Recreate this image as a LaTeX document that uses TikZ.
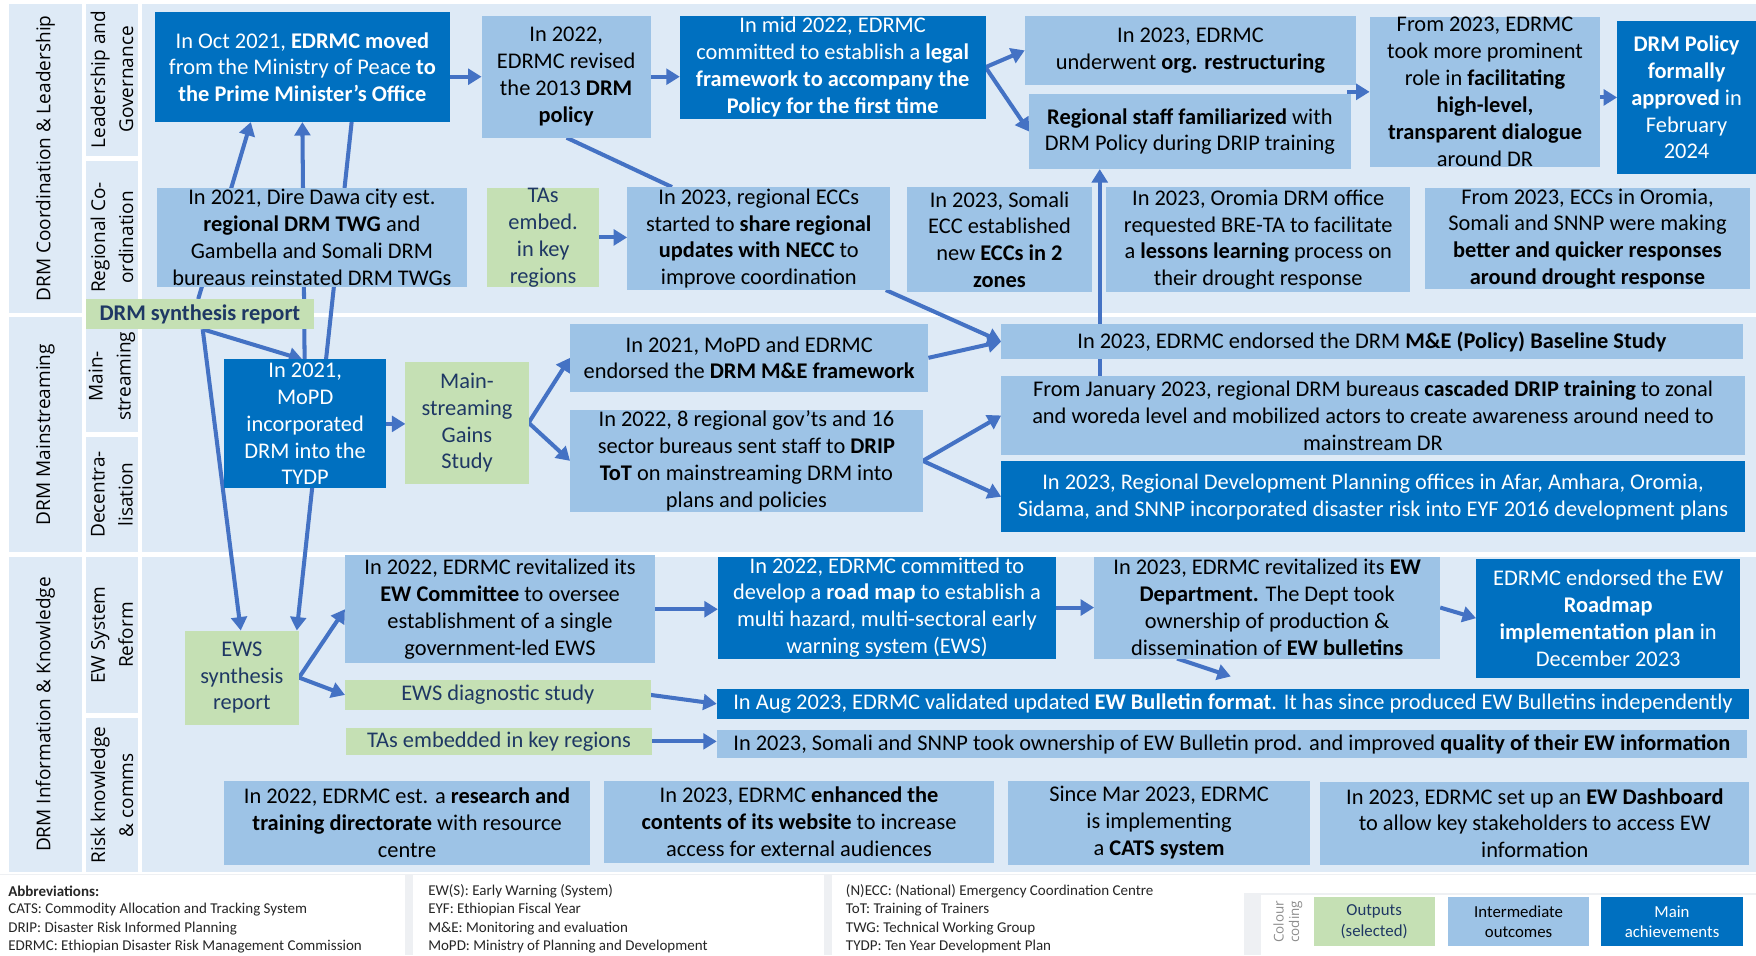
\documentclass[tikz,border=0pt]{standalone}
\usepackage{fontspec}
\setmainfont{Carlito}
\newfontfamily\lblfont{Open Sans}
\usetikzlibrary{arrows.meta,calc}
\definecolor{bgc}{RGB}{222,234,246}
\definecolor{midc}{RGB}{157,195,230}
\definecolor{mainc}{RGB}{0,112,192}
\definecolor{outc}{RGB}{197,224,180}
\definecolor{arrc}{RGB}{68,114,196}
\definecolor{navy}{RGB}{31,56,100}
\definecolor{greyb}{RGB}{238,240,243}
\pgfdeclarelayer{bg}
\pgfdeclarelayer{arrows}
\pgfsetlayers{bg,arrows,main}
\tikzset{
 midbox/.style={fill=midc, text=black},
 mainbox/.style={fill=mainc, text=white},
 outbox/.style={fill=outc, text=navy},
 boxshape/.style={draw=none, inner sep=0pt, outer sep=0pt},
 txt/.style={inner sep=0pt, align=center, font=\fontsize{10}{12}\selectfont},
 arr/.style={draw=arrc, line width=1.8pt, -{Triangle[length=6pt,width=7pt]}},
 ln/.style={draw=arrc, line width=1.8pt},
 lbl/.style={rotate=90, align=center, inner sep=0pt, font=\lblfont\fontsize{8.5}{12.5}\selectfont, text=black},
 abbr/.style={anchor=west, inner sep=0pt, font=\fontsize{6.7}{8}\selectfont, text=black!85},
}
\newcommand\bx[7]{%
 \pgfmathsetmacro\bw{(#5-#3)*0.5}%
 \pgfmathsetmacro\bh{(#6-#4)*0.5}%
 \pgfmathsetmacro\bcx{(#3+#5)/2}%
 \pgfmathsetmacro\bcy{(#4+#6)/2}%
 \node[boxshape,#2,minimum width=\bw pt,minimum height=\bh pt] (#1) at (\bcx,\bcy) {};
 \node[txt,#2,fill=none] at (#1.center) {#7};}
\begin{document}
\begin{tikzpicture}[x=0.5pt,y=-0.5pt]
\useasboundingbox (0,0) rectangle (1568,853);
\begin{pgfonlayer}{bg}
\fill[white] (0,0) rectangle (1568,853);
% bands
\fill[bgc] (8,3.5) rectangle (73,279.5);
\fill[bgc] (77,3.5) rectangle (123,139);
\fill[bgc] (77,144) rectangle (123,279.5);
\fill[bgc] (127,3.5) rectangle (1568,279.5);
\fill[bgc] (8,283) rectangle (73,493);
\fill[bgc] (77,283) rectangle (123,386);
\fill[bgc] (77,390) rectangle (123,493);
\fill[bgc] (127,283) rectangle (1568,493);
\fill[bgc] (8,497) rectangle (73,779);
\fill[bgc] (77,497) rectangle (123,637);
\fill[bgc] (77,641) rectangle (123,779);
\fill[bgc] (127,497) rectangle (1568,779);
% bottom area
\fill[greyb] (0,780) rectangle (1568,853);
\fill[white] (0,781) rectangle (362,853);
\fill[white] (369,781) rectangle (736,853);
\fill[white] (743,781) rectangle (1111,853);
\fill[white] (1111,781) rectangle (1568,797);
\fill[white] (1126,799) rectangle (1568,853);
\end{pgfonlayer}

% row labels
\node[lbl] (L1) at (40.5,141.5) {DRM Coordination \& Leadership};
\node[lbl] (L2) at (40.5,388) {DRM Mainstreaming};
\node[lbl] (L3) at (40.5,638) {DRM Information \& Knowledge};
\node[lbl] (S1) at (100,71) {Leadership and\\Governance};
\node[lbl] (S2) at (100,212) {Regional Co-\\ordination};
\node[lbl] (S3) at (100,336) {Main-\\streaming};
\node[lbl] (S4) at (100,441.5) {Decentra-\\lisation};
\node[lbl] (S5) at (100,567) {EW System\\Reform};
\node[lbl] (S6) at (100,710) {Risk knowledge\\\& comms};

% row 1
\bx{A1}{mainbox}{138}{11}{402}{109}{In Oct 2021, \textbf{EDRMC moved}\\from the Ministry of Peace \textbf{to}\\\textbf{the Prime Minister's Office}}
\bx{A2}{midbox}{430}{14}{581}{123}{In 2022,\\EDRMC revised\\the 2013 \textbf{DRM}\\\textbf{policy}}
\bx{A3}{mainbox}{607}{14}{880}{106}{In mid 2022, EDRMC\\committed to establish a \textbf{legal}\\\textbf{framework to accompany the}\\\textbf{Policy for the first time}}
\bx{A4}{midbox}{915}{14}{1211}{76}{In 2023, EDRMC\\underwent \textbf{org. restructuring}}
\bx{A5}{midbox}{919}{84}{1206}{151}{\textbf{Regional staff familiarized} with\\DRM Policy during DRIP training}
\bx{A6}{midbox}{1223}{15}{1429}{149}{From 2023, EDRMC\\took more prominent\\role in \textbf{facilitating}\\\textbf{high-level,}\\\textbf{transparent dialogue}\\around DR}
\bx{A7}{mainbox}{1444}{19}{1568}{155}{\textbf{DRM Policy}\\\textbf{formally}\\\textbf{approved} in\\February\\2024}
\bx{B1}{midbox}{140}{168}{417}{256}{In 2021, Dire Dawa city est.\\\textbf{regional DRM TWG} and\\Gambella and Somali DRM\\bureaus reinstated DRM TWGs}
\bx{B2}{outbox}{435}{168}{535}{256}{TAs\\embed.\\in key\\regions}
\bx{B3}{midbox}{560}{167}{795}{259}{In 2023, regional ECCs\\started to \textbf{share regional}\\\textbf{updates with NECC} to\\improve coordination}
\bx{B4}{midbox}{810}{167}{975}{261}{In 2023, Somali\\ECC established\\new \textbf{ECCs in 2}\\\textbf{zones}}
\bx{B5}{midbox}{988}{167}{1259}{261}{In 2023, Oromia DRM office\\requested BRE-TA to facilitate\\a \textbf{lessons learning} process on\\their drought response}
\bx{B6}{midbox}{1272}{168}{1563}{258}{From 2023, ECCs in Oromia,\\Somali and SNNP were making\\\textbf{better and quicker responses}\\\textbf{around drought response}}
\bx{Syn}{outbox}{77}{267}{280}{294}{\textbf{DRM synthesis report}}

% row 2
\bx{C1}{mainbox}{200}{321}{345}{436}{In 2021,\\MoPD\\incorporated\\DRM into the\\TYDP}
\bx{C2}{outbox}{362}{323}{472}{432}{Main-\\streaming\\Gains\\Study}
\bx{C3}{midbox}{509}{289}{829}{350}{In 2021, MoPD and EDRMC\\endorsed the \textbf{DRM M\&E framework}}
\bx{C4}{midbox}{509}{366}{824}{457}{In 2022, 8 regional gov'ts and 16\\sector bureaus sent staff to \textbf{DRIP}\\\textbf{ToT} on mainstreaming DRM into\\plans and policies}
\bx{C5}{midbox}{894}{289}{1556}{321}{In 2023, EDRMC endorsed the DRM \textbf{M\&E (Policy) Baseline Study}}
\bx{C6}{midbox}{894}{336}{1558}{406}{From January 2023, regional DRM bureaus \textbf{cascaded DRIP training} to zonal\\and woreda level and mobilized actors to create awareness around need to\\mainstream DR}
\bx{C7}{mainbox}{894}{412}{1558}{475}{In 2023, Regional Development Planning offices in Afar, Amhara, Oromia,\\Sidama, and SNNP incorporated disaster risk into EYF 2016 development plans}

% row 3
\bx{D1}{outbox}{165}{563}{267}{647}{EWS\\synthesis\\report}
\bx{D2}{midbox}{308}{496}{585}{592}{In 2022, EDRMC revitalized its\\\textbf{EW Committee} to oversee\\establishment of a single\\government-led EWS}
\bx{D3}{outbox}{308}{607}{581}{634}{EWS diagnostic study}
\bx{D4}{outbox}{309}{650}{582}{674}{TAs embedded in key regions}
\bx{D5}{midbox}{200}{697}{527}{772}{In 2022, EDRMC est. a \textbf{research and}\\\textbf{training directorate} with resource\\centre}
\bx{D6}{mainbox}{641}{497}{943}{588}{In 2022, EDRMC committed to\\develop a \textbf{road map} to establish a\\multi hazard, multi-sectoral early\\warning system (EWS)}
\bx{D7}{midbox}{977}{497}{1286}{588}{In 2023, EDRMC revitalized its \textbf{EW}\\\textbf{Department.} The Dept took\\ownership of production \&\\dissemination of \textbf{EW bulletins}}
\bx{D8}{mainbox}{1318}{499}{1554}{605}{EDRMC endorsed the EW\\\textbf{Roadmap}\\\textbf{implementation plan} in\\December 2023}
\bx{D9}{mainbox}{640}{615}{1562}{642}{In Aug 2023, EDRMC validated updated \textbf{EW Bulletin format}. It has since produced EW Bulletins independently}
\bx{D10}{midbox}{640}{652}{1560}{677}{In 2023, Somali and SNNP took ownership of EW Bulletin prod. and improved \textbf{quality of their EW information}}
\bx{D11}{midbox}{539}{697}{888}{771}{In 2023, EDRMC \textbf{enhanced the}\\\textbf{contents of its website} to increase\\access for external audiences}
\bx{D12}{midbox}{900}{697}{1170}{772}{Since Mar 2023, EDRMC\\is implementing\\a \textbf{CATS system}}
\bx{D13}{midbox}{1179}{698}{1562}{772}{In 2023, EDRMC set up an \textbf{EW Dashboard}\\to allow key stakeholders to access EW\\information}

% legend
\node[lbl,font=\lblfont\fontsize{6}{7}\selectfont,text=black!45] (cc) at (1150,823) {Colour\\coding};
\bx{Lo}{outbox,font=\fontsize{7.5}{9}\selectfont}{1173}{801}{1281}{845}{Outputs\\(selected)}
\bx{Li}{midbox,font=\fontsize{7.5}{9}\selectfont}{1293}{801}{1419}{845}{Intermediate\\outcomes}
\bx{Lm}{mainbox,font=\fontsize{7.5}{9}\selectfont}{1430}{801}{1556}{845}{Main\\achievements}

% abbreviations
\node[abbr] (ab1) at (7,796) {\textbf{Abbreviations:}};
\node[abbr] (ab2) at (7,812.5) {CATS: Commodity Allocation and Tracking System};
\node[abbr] (ab3) at (7,829.5) {DRIP: Disaster Risk Informed Planning};
\node[abbr] (ab4) at (7,845.5) {EDRMC: Ethiopian Disaster Risk Management Commission};
\node[abbr] (ab5) at (382,796) {EW(S): Early Warning (System)};
\node[abbr] (ab6) at (382,812.5) {EYF: Ethiopian Fiscal Year};
\node[abbr] (ab7) at (382,829.5) {M\&E: Monitoring and evaluation};
\node[abbr] (ab8) at (382,845.5) {MoPD: Ministry of Planning and Development};
\node[abbr] (ab9) at (755,796) {(N)ECC: (National) Emergency Coordination Centre};
\node[abbr] (ab10) at (755,812.5) {ToT: Training of Trainers};
\node[abbr] (ab11) at (755,829.5) {TWG: Technical Working Group};
\node[abbr] (ab12) at (755,845.5) {TYDP: Ten Year Development Plan};

% helper coordinates
\coordinate (x177) at (177,0);
\coordinate (x224) at (224,0);
\coordinate (x272) at (272,0);
\coordinate (x270) at (270,0);
\coordinate (x314) at (314,0);
\coordinate (x265) at (265,0);
\coordinate (x181) at (181,0);
\coordinate (x215) at (215,0);
\coordinate (x982) at (982,0);
\coordinate (x506) at (506,0);
\coordinate (x600) at (600,0);
\coordinate (x791) at (791,0);
\coordinate (x1051) at (1051,0);
\coordinate (gapA) at (1203,82);
\coordinate (tipD) at (1099,604);

\begin{pgfonlayer}{arrows}
\draw[arr] (Syn.north -| x177) -- (A1.south -| x224);
\draw[arr] (C1.north -| x272) -- (A1.south -| x270);
\draw[arr] (A1.south -| x314) -- (D1.north -| x265);
\draw[arr] (Syn.south -| x181) -- (C1.north -| x270);
\draw[arr] (Syn.south -| x181) -- (D1.north -| x215);
\draw[arr] (C6.north -| x982) -- (A5.south -| x982);
\draw[arr] (A1.east |- A2.west) -- (A2.west);
\draw[arr] (A2.east) -- (A3.west |- A2.east);
\draw[arr] (A3.east) -- (A4.west);
\draw[arr] (A3.east) -- (A5.west);
\draw[arr] (gapA) -- (A6.west);
\draw[arr] (A6.east |- A7.west) -- (A7.west);
\draw[ln] (A2.south -| x506) -- (B3.north -| x600);
\draw[arr] (B2.east) -- (B3.west |- B2.east);
\draw[arr] (B3.south -| x791) -- (C5.west);
\draw[arr] (C3.east) -- (C5.west);
\draw[arr] (C1.east) -- (C2.west |- C1.east);
\draw[arr] (C2.east) -- (C3.west);
\draw[arr] (C2.east) -- (C4.west);
\draw[arr] (C4.east) -- (C6.west);
\draw[arr] (C4.east) -- (C7.west);
\draw[arr] (D1.east) -- (D2.west);
\draw[arr] (D1.east) -- (D3.west);
\draw[arr] (D2.east) -- (D6.west |- D2.east);
\draw[arr] (D3.east) -- (D9.west);
\draw[arr] (D4.east) -- (D10.west |- D4.east);
\draw[arr] (D6.east) -- (D7.west |- D6.east);
\draw[arr] (D7.east) -- (D8.west);
\draw[arr] (D7.south -| x1051) -- (tipD);
\end{pgfonlayer}
\end{tikzpicture}
\end{document}
